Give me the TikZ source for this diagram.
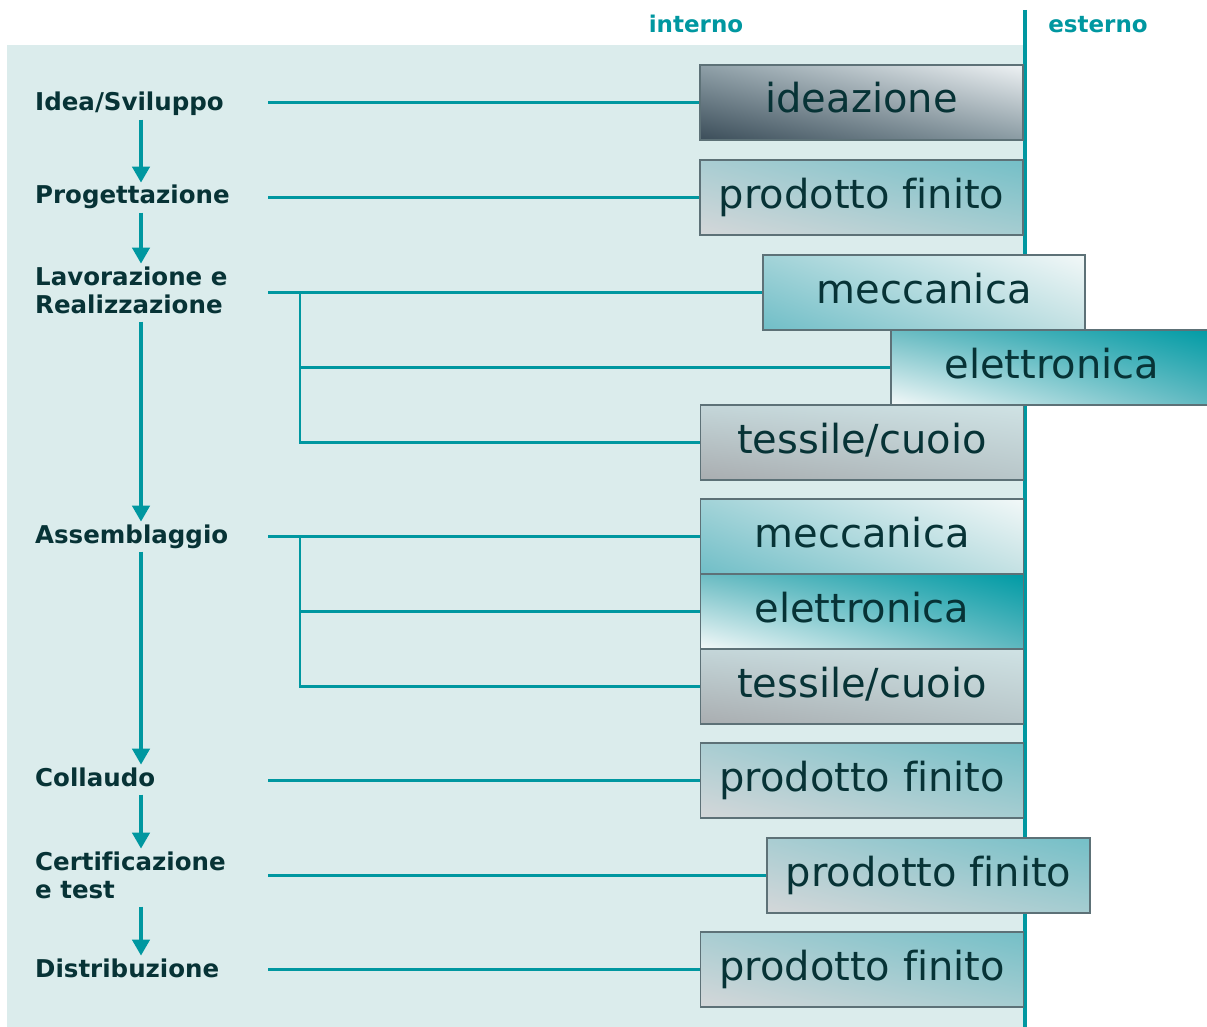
\documentclass[tikz,border=0pt]{standalone}
\usepackage{fontspec}
\setmainfont{DejaVu Sans}[Ligatures=NoCommon]
\usetikzlibrary{arrows.meta,shadings}

\definecolor{accent}{HTML}{0097A0}
\definecolor{panel}{HTML}{DBECEC}
\definecolor{ink}{HTML}{073336}
\definecolor{edge}{HTML}{5D7177}

% corner colours of the shaded boxes
\definecolor{ideLL}{HTML}{3B4D59}
\definecolor{ideUL}{HTML}{8FA0A8}
\definecolor{ideUR}{HTML}{EEF2F4}
\definecolor{ideLR}{HTML}{8A9BA3}
\definecolor{prodLL}{HTML}{D4D7D9}
\definecolor{prodUL}{HTML}{A9CDD2}
\definecolor{prodUR}{HTML}{74BFC7}
\definecolor{prodLR}{HTML}{A6CDD1}
\definecolor{mecLL}{HTML}{70BEC7}
\definecolor{mecUL}{HTML}{A2D3D8}
\definecolor{mecUR}{HTML}{F2F8F8}
\definecolor{mecLR}{HTML}{C4E1E3}
\definecolor{eleLL}{HTML}{F4F9F9}
\definecolor{eleUL}{HTML}{6CBCC3}
\definecolor{eleUR}{HTML}{009BA5}
\definecolor{eleLR}{HTML}{5EB8C0}
\definecolor{tesLL}{HTML}{A9ADB0}
\definecolor{tesUL}{HTML}{C4D6D9}
\definecolor{tesUR}{HTML}{CFE2E4}
\definecolor{tesLR}{HTML}{B8C6C9}

\pgfdeclarelayer{background}
\pgfsetlayers{background,main}

% left-aligned stage caption, baseline at its first line
\newcommand\stagetext[1]{\begin{tabular}[t]{@{}l@{}}#1\end{tabular}}

\begin{document}
\begin{tikzpicture}[x=1pt,y=-1pt,
  stage/.style={anchor=base west, inner sep=0pt, text=ink,
    font=\bfseries\fontsize{24.5}{28}\selectfont},
  head/.style={anchor=base, inner sep=0pt, text=accent,
    font=\bfseries\fontsize{23}{27}\selectfont},
  box/.style={draw=edge, line width=1.2pt, minimum width=323pt,
    minimum height=75pt, inner sep=0pt, text height=28pt, text depth=7pt,
    text=ink, font=\fontsize{40}{44}\selectfont},
  ideashade/.style={lower left=ideLL, upper left=ideUL,
    upper right=ideUR, lower right=ideLR},
  prodshade/.style={lower left=prodLL, upper left=prodUL,
    upper right=prodUR, lower right=prodLR},
  mecshade/.style={lower left=mecLL, upper left=mecUL,
    upper right=mecUR, lower right=mecLR},
  eleshade/.style={lower left=eleLL, upper left=eleUL,
    upper right=eleUR, lower right=eleLR},
  tesshade/.style={lower left=tesLL, upper left=tesUL,
    upper right=tesUR, lower right=tesLR},
  flow/.style={draw=accent, line width=4pt,
    -{Triangle[width=17pt,length=16pt]}, shorten >=1.5pt},
  link/.style={draw=accent, line width=2.5pt},
]
\useasboundingbox (0,0) rectangle (1207,1027);

% column headers
\node[head] (intern) at (696,33) {interno};
\node[head] (extern) at (1098,33) {esterno};

% process stages
\node[stage] (idea) at (35,111) {\stagetext{Idea/Sviluppo}};
\node[stage] (prog) at (35,204) {\stagetext{Progettazione}};
\node[stage] (lav)  at (35,285) {\stagetext{Lavorazione e\\Realizzazione}};
\node[stage] (ass)  at (35,543) {\stagetext{Assemblaggio}};
\node[stage] (coll) at (35,786) {\stagetext{Collaudo}};
\node[stage] (cert) at (35,870) {\stagetext{Certificazione\\e test}};
\node[stage] (dist) at (35,977) {\stagetext{Distribuzione}};

% outputs of each stage
\node[box, ideashade] (ide)  at (861.5,102.5) {ideazione};
\node[box, prodshade] (prA)  at (861.5,197.5) {prodotto finito};
\node[box, mecshade, minimum width=322pt] (mecA) at (924,292.5) {meccanica};
\node[box, eleshade, minimum width=322pt] (eleA) at (1052,367.5) {elettronica};
\node[box, tesshade] (tesA) at (862,442.5) {tessile/cuoio};
\node[box, mecshade] (mecB) at (862,536.5) {meccanica};
\node[box, eleshade] (eleB) at (862,611.5) {elettronica};
\node[box, tesshade] (tesB) at (862,686.5) {tessile/cuoio};
\node[box, prodshade] (prB)  at (862,780.5) {prodotto finito};
\node[box, prodshade] (prC)  at (928.5,875.5) {prodotto finito};
\node[box, prodshade] (prD)  at (862,969.5) {prodotto finito};

% reference abscissae for the vertical flow and the branch lines
\coordinate (axis) at (141,0);
\coordinate (tap)  at (268,0);
\coordinate (fork) at (300,0);

% flow between stages
\draw[flow] (idea.south -| axis) -- (prog.north -| axis);
\draw[flow] (prog.south -| axis) -- (lav.north -| axis);
\draw[flow] (lav.south -| axis)  -- (ass.north -| axis);
\draw[flow] (ass.south -| axis)  -- (coll.north -| axis);
\draw[flow] (coll.south -| axis) -- (cert.north -| axis);
\draw[flow] (cert.south -| axis) -- (dist.north -| axis);

\begin{pgfonlayer}{background}
  \fill[panel] (7,45) rectangle (1025,1027);
  \draw[accent, line width=4.5pt] (1025,10) -- (1025,1027);

  \draw[link] (tap |- ide.west) -- (ide.west);
  \draw[link] (tap |- prA.west) -- (prA.west);
  \draw[link] (tap |- mecA.west) -- (mecA.west);
  \draw[link] (fork |- mecA.west) |- (eleA.west);
  \draw[link] (fork |- mecA.west) |- (tesA.west);
  \draw[link] (tap |- mecB.west) -- (mecB.west);
  \draw[link] (fork |- mecB.west) |- (eleB.west);
  \draw[link] (fork |- mecB.west) |- (tesB.west);
  \draw[link] (tap |- prB.west) -- (prB.west);
  \draw[link] (tap |- prC.west) -- (prC.west);
  \draw[link] (tap |- prD.west) -- (prD.west);
\end{pgfonlayer}
\end{tikzpicture}
\end{document}
